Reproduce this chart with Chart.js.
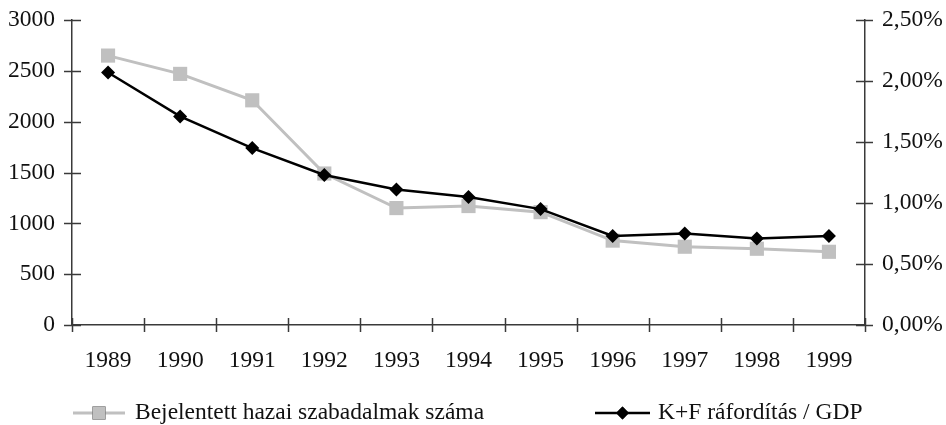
<!DOCTYPE html>
<html>
<head>
<meta charset="utf-8">
<script src="https://cdn.jsdelivr.net/npm/chart.js@4/dist/chart.umd.min.js"></script>
<style>
  html, body { margin: 0; padding: 0; background: #fff; }
  #wrap { width: 946px; height: 425px; }
</style>
</head>
<body>
<div id="wrap"><canvas id="c" width="946" height="425"></canvas></div>
<script>
const years = ['1989','1990','1991','1992','1993','1994','1995','1996','1997','1998','1999'];
const patents = [2650, 2470, 2210, 1490, 1150, 1170, 1110, 830, 770, 750, 720];
const kfGdp = [2.07, 1.71, 1.45, 1.23, 1.11, 1.05, 0.95, 0.73, 0.75, 0.71, 0.73];
const patentsLabel = 'Bejelentett hazai szabadalmak száma';
const kfLabel = 'K+F ráfordítás / GDP';

const FONT = '"Liberation Serif", "Times New Roman", serif';
const FSIZE = 23.5;
const AXIS = '#3a3a3a';

const crossTicks = {
  id: 'crossTicks',
  afterDraw(chart) {
    const ctx = chart.ctx;
    const a = chart.chartArea;
    ctx.save();
    ctx.strokeStyle = AXIS;
    ctx.lineWidth = 1.5;
    const x = chart.scales.x;
    const n = x.ticks.length;
    const half = (x.getPixelForValue(1) - x.getPixelForValue(0)) / 2;
    for (let i = 0; i <= n; i++) {
      const px = Math.round(x.getPixelForValue(i) - half) + 0.5;
      ctx.beginPath(); ctx.moveTo(px, a.bottom - 7); ctx.lineTo(px, a.bottom + 7); ctx.stroke();
    }
    const yl = chart.scales.y;
    yl.ticks.forEach(t => {
      const py = Math.round(yl.getPixelForValue(t.value)) + 0.5;
      ctx.beginPath(); ctx.moveTo(a.left - 8, py); ctx.lineTo(a.left + 9, py); ctx.stroke();
    });
    const yr = chart.scales.y2;
    yr.ticks.forEach(t => {
      const py = Math.round(yr.getPixelForValue(t.value)) + 0.5;
      ctx.beginPath(); ctx.moveTo(a.right - 9, py); ctx.lineTo(a.right + 8, py); ctx.stroke();
    });
    ctx.restore();
  }
};

const customLegend = {
  id: 'customLegend',
  afterDraw(chart) {
    const ctx = chart.ctx;
    const ds = chart.data.datasets;
    const y = 413;
    const items = [
      { d: ds[1], x0: 73, x1: 125, tx: 135 },
      { d: ds[0], x0: 595, x1: 650, tx: 658 }
    ];
    ctx.save();
    items.forEach(it => {
      const d = it.d;
      ctx.strokeStyle = d.borderColor;
      ctx.lineWidth = d.borderWidth;
      ctx.beginPath(); ctx.moveTo(it.x0, y); ctx.lineTo(it.x1, y); ctx.stroke();
      Chart.helpers.drawPoint(ctx, {
        pointStyle: d.pointStyle, radius: d.pointRadius * 0.92, borderWidth: 0, rotation: 0
      }, (it.x0 + it.x1) / 2, y);
      ctx.fillStyle = d.pointBackgroundColor;
      ctx.fill();
      ctx.fillStyle = '#111';
      ctx.font = FSIZE + 'px ' + FONT;
      ctx.textBaseline = 'middle';
      ctx.textAlign = 'left';
      ctx.fillText(d.label, it.tx, y);
    });
    ctx.restore();
  }
};

function noPad(s) { s.paddingTop = 0; s.paddingBottom = 0; }

new Chart(document.getElementById('c'), {
  type: 'line',
  data: {
    labels: years,
    datasets: [
      {
        label: kfLabel,
        data: kfGdp,
        yAxisID: 'y2',
        borderColor: '#000000',
        borderWidth: 2.5,
        pointStyle: 'rectRot',
        pointRadius: 7,
        pointBackgroundColor: '#000000',
        pointBorderColor: '#000000',
        pointBorderWidth: 0,
        tension: 0,
        order: 0
      },
      {
        label: patentsLabel,
        data: patents,
        yAxisID: 'y',
        borderColor: '#c0c0c0',
        borderWidth: 3,
        pointStyle: 'rect',
        pointRadius: 10,
        pointBackgroundColor: '#c0c0c0',
        pointBorderColor: '#c0c0c0',
        pointBorderWidth: 0,
        tension: 0,
        order: 1
      }
    ]
  },
  options: {
    responsive: false,
    animation: false,
    layout: { padding: { top: 20, bottom: 45, left: 0, right: 0 } },
    plugins: {
      legend: { display: false },
      tooltip: { enabled: false },
      title: { display: false }
    },
    scales: {
      x: {
        offset: true,
        grid: { display: false, drawTicks: false, offset: true },
        border: { display: true, color: AXIS, width: 1.5 },
        ticks: { color: '#111', font: { family: FONT, size: FSIZE }, padding: 22, maxRotation: 0, autoSkip: false },
        afterFit(s) { s.height = 55; s.paddingLeft = 0; s.paddingRight = 0; }
      },
      y: {
        position: 'left',
        min: 0, max: 3000,
        grid: { display: false, drawTicks: false },
        border: { display: true, color: AXIS, width: 1.5 },
        ticks: { stepSize: 500, color: '#111', font: { family: FONT, size: FSIZE }, padding: 17,
          callback: v => String(v) },
        afterFit(s) { s.width = 72; noPad(s); }
      },
      y2: {
        position: 'right',
        min: 0, max: 2.5,
        grid: { display: false, drawTicks: false },
        border: { display: true, color: AXIS, width: 1.5 },
        ticks: {
          stepSize: 0.5, color: '#111', font: { family: FONT, size: FSIZE }, padding: 17,
          callback: v => v.toFixed(2).replace('.', ',') + '%'
        },
        afterFit(s) { s.width = 81; noPad(s); }
      }
    }
  },
  plugins: [crossTicks, customLegend]
});
</script>
</body>
</html>
